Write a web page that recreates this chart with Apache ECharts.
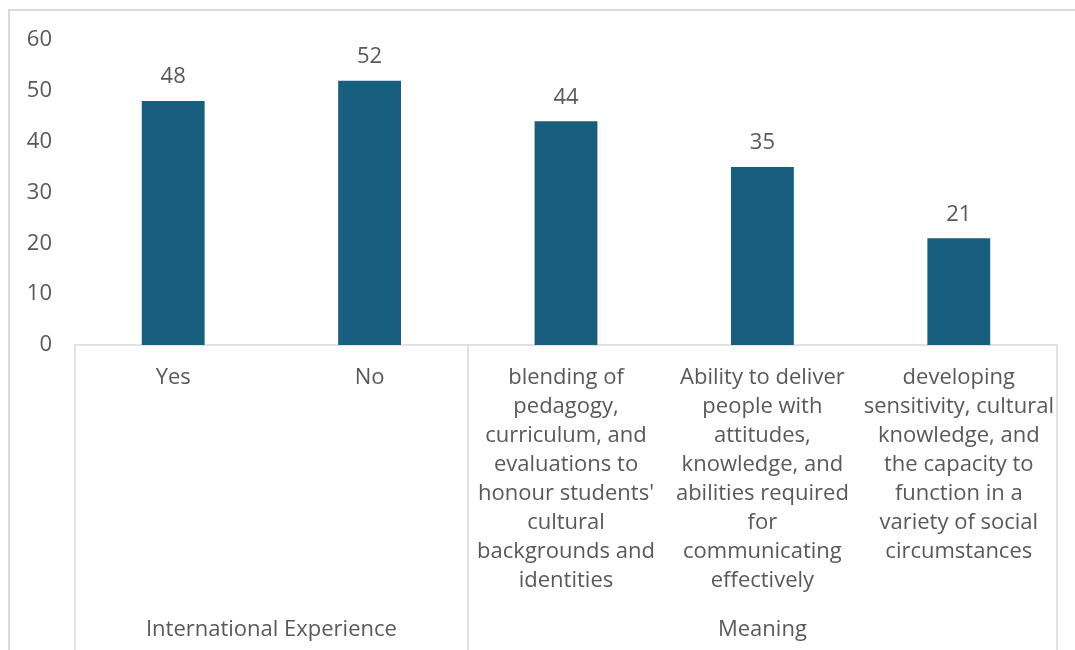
<!DOCTYPE html>
<html>
<head>
<meta charset="utf-8">
<script src="https://cdn.jsdelivr.net/npm/echarts@6/dist/echarts.min.js"></script>
<style>
  html, body { margin: 0; padding: 0; background: #ffffff; }
  #chart { width: 1075px; height: 650px; }
</style>
</head>
<body>
<div id="chart"></div>
<script>
// Response categories (line breaks follow the wrapped axis text)
const categories = [
  'Yes',
  'No',
  'blending of\npedagogy,\ncurriculum, and\nevaluations to\nhonour students\'\ncultural\nbackgrounds and\nidentities',
  'Ability to deliver\npeople with\nattitudes,\nknowledge, and\nabilities required\nfor\ncommunicating\neffectively',
  'developing\nsensitivity, cultural\nknowledge, and\nthe capacity to\nfunction in a\nvariety of social\ncircumstances'
];
const values = [48, 52, 44, 35, 21];

// Outer grouping of the categories: group name, first index, count
const groupNames = ['International Experience', 'Meaning'];
const groupStarts = [0, 2];
const groupSizes = [2, 3];

const yTicks = [0, 10, 20, 30, 40, 50, 60];

const TEXT = '#595959';
const LINE = '#d9d9d9';
const FONT = '"Open Sans"';
const FS = 22;

// Positions on the 0..N scale of the grouping axis
const total = categories.length;
const boundaries = [0];
const groupCenters = [];
groupStarts.forEach((s, i) => {
  boundaries.push(s + groupSizes[i]);
  groupCenters.push(s + groupSizes[i] / 2);
});

const chart = echarts.init(document.getElementById('chart'), null, { renderer: 'canvas' });

chart.setOption({
  animation: false,
  textStyle: { fontFamily: FONT },
  grid: { left: 75, right: 18, top: 40, bottom: 305, containLabel: false },
  graphic: [{
    type: 'rect',
    silent: true,
    shape: { x: 9, y: 10, width: 1080, height: 660 },
    style: { fill: 'none', stroke: LINE, lineWidth: 2 }
  }],
  xAxis: [
    {
      type: 'category',
      data: categories,
      axisLine: { show: true, lineStyle: { color: LINE, width: 1.5 } },
      axisTick: { show: false },
      axisLabel: {
        interval: 0,
        color: TEXT,
        fontSize: FS,
        lineHeight: 29,
        margin: 18,
        fontFamily: FONT
      }
    },
    {
      type: 'value',
      position: 'bottom',
      min: 0,
      max: total,
      splitLine: { show: false },
      axisLine: { show: false },
      axisTick: {
        show: true,
        customValues: boundaries,
        length: 305,
        lineStyle: { color: LINE, width: 1.5 }
      },
      axisLabel: {
        show: true,
        customValues: groupCenters,
        color: TEXT,
        fontSize: FS,
        margin: 274,
        fontFamily: FONT,
        formatter: (v) => {
          const i = groupCenters.indexOf(v);
          return i >= 0 ? groupNames[i] : '';
        }
      }
    }
  ],
  yAxis: {
    type: 'value',
    min: yTicks[0],
    max: yTicks[yTicks.length - 1],
    interval: 10,
    splitLine: { show: false },
    axisLine: { show: false },
    axisTick: { show: false },
    axisLabel: { color: TEXT, fontSize: FS, margin: 23, fontFamily: FONT }
  },
  series: [{
    type: 'bar',
    data: values,
    xAxisIndex: 0,
    barWidth: '32%',
    itemStyle: { color: '#185E7E' },
    label: {
      show: true,
      position: 'top',
      distance: 13,
      color: TEXT,
      fontSize: FS,
      fontFamily: FONT
    }
  }]
});
</script>
</body>
</html>
